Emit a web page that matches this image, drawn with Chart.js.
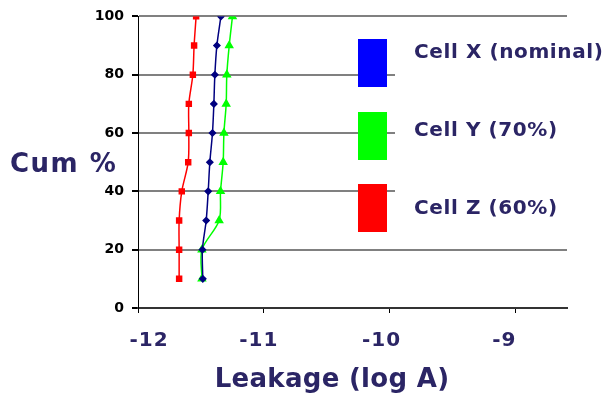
<!DOCTYPE html>
<html>
<head>
<meta charset="utf-8">
<script src="https://cdn.jsdelivr.net/npm/chart.js@4/dist/chart.umd.min.js"></script>
<style>
  body { margin: 0; background: #fff; }
  #wrap { width: 608px; height: 398px; }
</style>
</head>
<body>
<div id="wrap"><canvas id="leak-chart" width="608" height="398"></canvas></div>
<script>
// cumulative percentage levels
const cumPct = [10, 20, 30, 40, 50, 60, 70, 80, 90, 100]

// leakage (log A) per cell
const cellX = [-11.485, -11.488, -11.458, -11.442, -11.429, -11.408, -11.397, -11.389, -11.373, -11.341]
const cellY = [-11.492, -11.492, -11.355, -11.344, -11.323, -11.317, -11.299, -11.294, -11.275, -11.249]
const cellZ = [-11.673, -11.673, -11.673, -11.652, -11.601, -11.596, -11.596, -11.564, -11.554, -11.538]

const seriesNames = ['Cell X (nominal)', 'Cell Y (70%)', 'Cell Z (60%)']
const legendColors = ['#0000ff', '#00ff00', '#ff0000']

const xTicks = [-12, -11, -10, -9]
const yTicks = [0, 20, 40, 60, 80, 100]

// the original's x labels sit a little off their tick marks
const xLabelNudge = [11, -5, -8, -11]

const titleColor = '#2b2565'
const fontFamily = '"DejaVu Sans", Verdana, sans-serif'

function toPoints(xs) {
    return xs.map((x, i) => ({x: x, y: cumPct[i]}))
}

// titles, x labels and the side legend, drawn like the original
const decorations = {
    id: 'decorations',
    beforeDatasetsDraw(chart) {
        const ctx = chart.ctx
        ctx.save()
        // legend background hides the grid lines behind it
        ctx.fillStyle = '#ffffff'
        ctx.fillRect(395, 24, 213, 222)
        ctx.fillRect(395, 252, 213, 50)
        ctx.restore()
    },
    afterDraw(chart) {
        const ctx = chart.ctx
        const xScale = chart.scales.x
        ctx.save()
        ctx.fillStyle = titleColor
        ctx.textBaseline = 'alphabetic'

        ctx.font = 'bold 20px ' + fontFamily
        ctx.letterSpacing = '1px'
        ctx.textAlign = 'center'
        xTicks.forEach((v, i) => {
            ctx.fillText(String(v), xScale.getPixelForValue(v) + xLabelNudge[i], 346)
        })

        ctx.font = 'bold 26px ' + fontFamily
        ctx.letterSpacing = '1.5px'
        ctx.textAlign = 'left'
        ctx.fillText('Cum %', 10, 172)

        ctx.letterSpacing = '0.3px'
        ctx.textAlign = 'center'
        ctx.fillText('Leakage (log A)', 332, 387)

        const boxTops = [39, 112, 184]
        const textMid = [52, 130, 208]
        ctx.font = 'bold 20px ' + fontFamily
        ctx.letterSpacing = '0.6px'
        ctx.textAlign = 'left'
        ctx.textBaseline = 'middle'
        seriesNames.forEach((name, i) => {
            ctx.fillStyle = legendColors[i]
            ctx.fillRect(358, boxTops[i], 29, 48)
            ctx.fillStyle = titleColor
            ctx.fillText(name, 414, textMid[i] + 1)
        })
        ctx.restore()
    }
}

const data = {
    datasets: [{
        label: seriesNames[0],
        data: toPoints(cellX),
        borderColor: '#000080',
        backgroundColor: '#000080',
        pointStyle: 'rectRot',
        pointRadius: 3,
        borderWidth: 1.5,
        tension: 0.3
    }, {
        label: seriesNames[1],
        data: toPoints(cellY),
        borderColor: '#00ff00',
        backgroundColor: '#00ff00',
        pointStyle: 'triangle',
        pointRadius: 4,
        borderWidth: 1.5,
        tension: 0.3
    }, {
        label: seriesNames[2],
        data: toPoints(cellZ),
        borderColor: '#ff0000',
        backgroundColor: '#ff0000',
        pointStyle: 'rect',
        pointRadius: 3.5,
        borderWidth: 1.5,
        tension: 0.3
    }]
}

const config = {
    type: 'line',
    data: data,
    plugins: [decorations],
    options: {
        responsive: false,
        animation: false,
        layout: {
            padding: {top: 15, right: 41, left: 0, bottom: 0}
        },
        plugins: {
            legend: { display: false },
            tooltip: { enabled: false }
        },
        scales: {
            x: {
                type: 'linear',
                min: -12,
                max: -8.59,
                afterBuildTicks: (scale) => { scale.ticks = xTicks.map(v => ({value: v})) },
                afterFit: (scale) => { scale.height = 90 },
                grid: {
                    drawOnChartArea: false,
                    tickLength: 5,
                    tickColor: '#000000'
                },
                border: { color: '#333333', width: 2 },
                ticks: { display: false }
            },
            y: {
                min: 0,
                max: 100,
                afterBuildTicks: (scale) => { scale.ticks = yTicks.map(v => ({value: v})) },
                afterFit: (scale) => { scale.width = 138 },
                grid: {
                    color: (c) => c.tick && c.tick.value === 0 ? '#333333' : '#808080',
                    lineWidth: 2,
                    tickLength: 6,
                    tickColor: '#000000'
                },
                border: { color: '#000000', width: 1 },
                ticks: {
                    padding: 8,
                    color: '#000000',
                    font: { family: fontFamily, size: 14, weight: 'bold' }
                }
            }
        }
    }
}

document.addEventListener('DOMContentLoaded', () => {
    new Chart(document.getElementById('leak-chart'), config)
})
</script>
</body>
</html>
